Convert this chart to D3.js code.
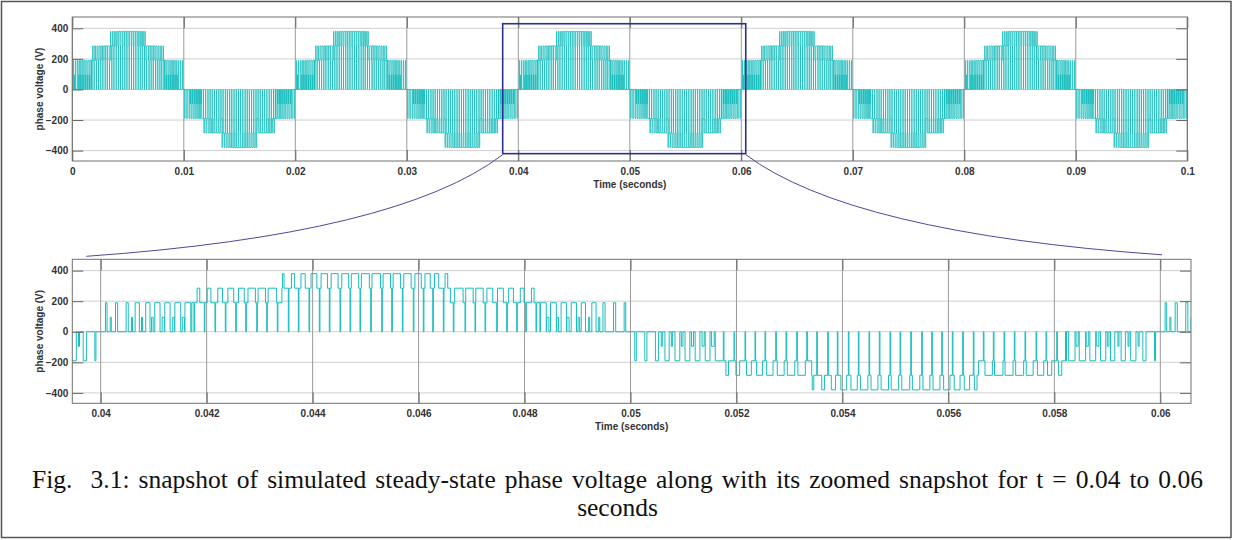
<!DOCTYPE html>
<html>
<head>
<meta charset="utf-8">
<script src="https://cdn.jsdelivr.net/npm/d3@7"></script>
<style>
    body { margin: 0; background: #fff; }
    svg text { font-family: "Liberation Sans", Arial, sans-serif; }
</style>
</head>
<body>
<svg id="fig" width="1233" height="540"></svg>
<script>
/*************************************************************************************************************
 * Data - one steady-state period of the phase voltage (times in ms from the start of the period, volts)
 *************************************************************************************************************/
const periodMs = 20;

// base level of each band [from, to, level]
const cycleBase = [
    [0, 1.72, 0], [1.72, 3.42, 190], [3.42, 6.60, 285], [6.60, 8.29, 190], [8.29, 10, 0],
    [10, 11.60, 0], [11.60, 13.42, -190], [13.42, 16.57, -285], [16.57, 18.23, -190], [18.23, 20, 0]
];

// switching pulses on top of the base level [from, to]
const pulses95 = [
    [0.18, 0.20], [0.58, 0.60], [0.77, 0.79], [0.96, 0.99], [1.16, 1.20], [1.36, 1.39], [1.54, 1.58],
    [8.42, 8.46], [8.61, 8.64], [8.80, 8.84], [9.01, 9.04], [9.21, 9.23], [9.40, 9.42]
];
const pulses190 = [
    [0.09, 0.12], [0.28, 0.32], [0.48, 0.52], [0.65, 0.73], [0.85, 0.93], [1.02, 1.12], [1.21, 1.31],
    [1.40, 1.51], [1.59, 1.70],
    [8.30, 8.41], [8.49, 8.60], [8.69, 8.79], [8.88, 8.98], [9.07, 9.15], [9.27, 9.35], [9.48, 9.52],
    [9.68, 9.72], [9.88, 9.91]
];
const pulses285 = [
    [1.82, 1.87], [2.01, 2.08], [2.21, 2.30], [2.40, 2.51], [2.60, 2.71], [2.78, 2.92], [2.97, 3.11], [3.16, 3.32],
    [6.68, 6.84], [6.89, 7.03], [7.08, 7.22], [7.29, 7.40], [7.49, 7.60], [7.70, 7.79], [7.92, 7.99], [8.13, 8.18]
];
const pulses380 = [
    [3.43, 3.46], [3.60, 3.66], [3.78, 3.86], [3.97, 4.08], [4.16, 4.28], [4.35, 4.48], [4.55, 4.68], [4.73, 4.87],
    [4.92, 5.07], [5.12, 5.28], [5.33, 5.47], [5.52, 5.66], [5.72, 5.86], [5.93, 6.05], [6.12, 6.22], [6.30, 6.38],
    [6.50, 6.55]
];
const pulsesNeg95 = [
    [10.58, 10.60], [10.77, 10.79], [10.96, 10.99], [11.15, 11.19], [11.35, 11.39], [11.53, 11.58],
    [18.41, 18.45], [18.60, 18.64], [18.80, 18.84], [19.00, 19.03], [19.20, 19.22], [19.39, 19.41], [19.58, 19.60]
];
const pulsesNeg190 = [
    [10.08, 10.11], [10.27, 10.31], [10.47, 10.53], [10.65, 10.73], [10.84, 10.93], [11.03, 11.12], [11.22, 11.31],
    [11.41, 11.50],
    [18.27, 18.39], [18.47, 18.59], [18.67, 18.78], [18.87, 18.97], [19.06, 19.14], [19.26, 19.34], [19.44, 19.54],
    [19.67, 19.73], [19.89, 19.91]
];
const pulsesNeg285 = [
    [11.80, 11.85], [11.99, 12.06], [12.19, 12.28], [12.38, 12.49], [12.57, 12.69], [12.77, 12.90], [12.96, 13.10],
    [13.16, 13.30],
    [16.69, 16.83], [16.87, 17.03], [17.07, 17.22], [17.27, 17.42], [17.47, 17.60], [17.68, 17.80], [17.87, 17.95],
    [18.08, 18.14]
];
const pulsesNeg380 = [
    [13.43, 13.46], [13.61, 13.66], [13.79, 13.87], [13.97, 14.08], [14.16, 14.28], [14.34, 14.48], [14.54, 14.67],
    [14.73, 14.87], [14.92, 15.06], [15.12, 15.27], [15.32, 15.46], [15.52, 15.65], [15.71, 15.84], [15.91, 16.03],
    [16.11, 16.22], [16.30, 16.40], [16.49, 16.54]
];

// short drops to 0 V once per carrier period in the upper bands
const dipWidth = 0.012;
const dips = [
    1.761, 1.955, 2.157, 2.352, 2.548, 2.737, 2.945, 3.133, 3.333, 3.541, 3.730, 3.932, 4.126, 4.315, 4.517,
    4.706, 4.894, 5.096, 5.304, 5.493, 5.693, 5.900, 6.089, 6.267, 6.467, 6.655, 6.876, 7.065, 7.254, 7.474,
    7.663, 7.852, 8.022, 8.216,
    11.752, 11.954, 12.161, 12.350, 12.539, 12.741, 12.935, 13.137, 13.326, 13.515, 13.722, 13.903, 14.111,
    14.300, 14.502, 14.696, 14.898, 15.087, 15.289, 15.496, 15.685, 15.874, 16.074, 16.270, 16.470, 16.659,
    16.848, 17.050, 17.244, 17.446, 17.654, 17.843, 18.045, 18.210
];

// period start times (ms) drawn in each panel
const topCycleStarts = [0, 20, 40, 60, 80];
const zoomCycleStarts = [20, 40, 60];

// axes
const topXTicks = [0, 0.01, 0.02, 0.03, 0.04, 0.05, 0.06, 0.07, 0.08, 0.09, 0.1];
const zoomXTicks = [0.04, 0.042, 0.044, 0.046, 0.048, 0.05, 0.052, 0.054, 0.056, 0.058, 0.06];
const yTicks = [-400, -200, 0, 200, 400];
const yDomain = [-468, 474];
const topXDomain = [0, 0.1];
const zoomXDomain = [0.039464, 0.060579];
const zoomBox = {t0: 0.0386, t1: 0.0604, v0: -420, v1: 430};

const captionLines = [
    "Fig.  3.1: snapshot of simulated steady-state phase voltage along with its zoomed snapshot for t = 0.04 to 0.06",
    "seconds"
];

/*************************************************************************************************************
 * Waveform
 *************************************************************************************************************/
const pulseSets = [
    [pulses95, 95], [pulses190, 190], [pulses285, 285], [pulses380, 380],
    [pulsesNeg95, -95], [pulsesNeg190, -190], [pulsesNeg285, -285], [pulsesNeg380, -380]
];

function levelAt(t) {
    if (dips.some(d => t >= d && t < d + dipWidth)) return 0;
    let v = null;
    pulseSets.forEach(([list, level]) => {
        list.forEach(p => {
            if (t >= p[0] && t < p[1]) v = level;
        });
    });
    if (v !== null) return v;
    let b = cycleBase.find(b => t >= b[0] && t < b[1]);
    return b ? b[2] : 0;
}

// step points [t, v] of one period
let cyclePoints = (function () {
    let edges = [];
    cycleBase.forEach(b => edges.push(b[0], b[1]));
    pulseSets.forEach(([list]) => list.forEach(p => edges.push(p[0], p[1])));
    dips.forEach(d => edges.push(d, d + dipWidth));
    edges = Array.from(new Set(edges)).sort((a, b) => a - b);
    let pts = [];
    for (let i = 0; i < edges.length - 1; i++) {
        pts.push([edges[i], levelAt((edges[i] + edges[i + 1]) / 2)]);
    }
    pts.push([periodMs, 0]);
    return pts;
}());

function waveform(starts) {
    let pts = [];
    starts.forEach(s => {
        cyclePoints.forEach(p => pts.push([(s + p[0]) / 1000, p[1]]));
    });
    return pts;
}

/*************************************************************************************************************
 * Drawing
 *************************************************************************************************************/
let svg = d3.select("#fig");

svg.append("rect")
    .attr("x", 1.5).attr("y", 1.5)
    .attr("width", 1229.5).attr("height", 536)
    .attr("fill", "none")
    .attr("stroke", "#555")
    .attr("stroke-width", 1.5);

function drawPanel(id, left, top, width, height, xDomain, xTicks, starts, lineWidth) {
    let x = d3.scaleLinear().domain(xDomain).range([0, width]),
        y = d3.scaleLinear().domain(yDomain).range([height, 0]);

    let g = svg.append("g").attr("transform", "translate(" + left + "," + top + ")");

    g.append("clipPath").attr("id", id)
        .append("rect").attr("width", width).attr("height", height);

    // grid
    g.append("g").selectAll("line")
        .data(yTicks)
        .enter().append("line")
        .attr("x1", 0).attr("x2", width)
        .attr("y1", d => y(d)).attr("y2", d => y(d))
        .attr("stroke", "#cfcfcf");
    g.append("g").selectAll("line")
        .data(xTicks)
        .enter().append("line")
        .attr("y1", 0).attr("y2", height)
        .attr("x1", d => x(d)).attr("x2", d => x(d))
        .attr("stroke", "#9a9a9a");

    let line = d3.line()
        .x(d => x(d[0]))
        .y(d => y(d[1]))
        .curve(d3.curveStepAfter);

    g.append("path")
        .datum(waveform(starts))
        .attr("clip-path", "url(#" + id + ")")
        .attr("fill", "none")
        .attr("stroke", "#17bdbd")
        .attr("stroke-width", lineWidth)
        .attr("d", line);

    let fmt = d => String(+d.toFixed(3));

    let xAxis = g.append("g")
        .attr("transform", "translate(0," + height + ")")
        .call(d3.axisBottom(x).tickValues(xTicks).tickFormat(fmt).tickSize(-11).tickSizeOuter(0).tickPadding(7));
    g.append("g")
        .call(d3.axisTop(x).tickValues(xTicks).tickFormat("").tickSize(-11).tickSizeOuter(0));
    let yAxis = g.append("g")
        .call(d3.axisLeft(y).tickValues(yTicks).tickSize(-11).tickSizeOuter(0).tickPadding(4));
    g.append("g")
        .attr("transform", "translate(" + width + ",0)")
        .call(d3.axisRight(y).tickValues(yTicks).tickFormat("").tickSize(-11).tickSizeOuter(0));

    g.selectAll(".domain").remove();
    g.selectAll(".tick line").attr("stroke", "#666");
    [xAxis, yAxis].forEach(a => a.selectAll("text")
        .style("font-family", "'Liberation Sans', Arial, sans-serif")
        .style("font-size", "10px")
        .style("font-weight", "bold")
        .attr("fill", "#333"));

    g.append("rect")
        .attr("width", width).attr("height", height)
        .attr("fill", "none")
        .attr("stroke", "#707070");

    g.append("text")
        .attr("transform", "rotate(-90)")
        .attr("x", -height / 2)
        .attr("y", -29)
        .style("text-anchor", "middle")
        .style("font-size", "10px")
        .style("font-weight", "bold")
        .attr("fill", "#333")
        .text("phase voltage (V)");

    g.append("text")
        .attr("x", width / 2)
        .attr("y", height + 27)
        .style("text-anchor", "middle")
        .style("font-size", "10px")
        .style("font-weight", "bold")
        .attr("fill", "#333")
        .text("Time (seconds)");

    return {x: x, y: y, left: left, top: top, width: width, height: height};
}

let topPanel = drawPanel("clipTop", 72.3, 17, 1115, 144, topXDomain, topXTicks, topCycleStarts, 0.8);
let zoomPanel = drawPanel("clipZoom", 72.3, 259.3, 1118.7, 144, zoomXDomain, zoomXTicks, zoomCycleStarts, 1);

// zoom box on the top panel
let bx0 = topPanel.left + topPanel.x(zoomBox.t0),
    bx1 = topPanel.left + topPanel.x(zoomBox.t1),
    by0 = topPanel.top + topPanel.y(zoomBox.v1),
    by1 = topPanel.top + topPanel.y(zoomBox.v0);

svg.append("rect")
    .attr("x", bx0).attr("y", by0)
    .attr("width", bx1 - bx0).attr("height", by1 - by0)
    .attr("fill", "none")
    .attr("stroke", "#2b2f8f")
    .attr("stroke-width", 1.6);

// connectors down to the zoomed panel
let ends = [
    [bx0, by1 + 1, zoomPanel.left + 14, zoomPanel.top - 3],
    [bx1, by1 + 1, zoomPanel.left + zoomPanel.width - 29, zoomPanel.top - 4.5]
];
ends.forEach(e => {
    let p = d3.path();
    p.moveTo(e[0], e[1]);
    p.quadraticCurveTo(e[2] + 0.75 * (e[0] - e[2]), e[3] - 22, e[2], e[3]);
    svg.append("path")
        .attr("d", p.toString())
        .attr("fill", "none")
        .attr("stroke", "#4a4a9a")
        .attr("stroke-width", 1);
});

// caption - first line is justified across the page like the original document
let caption = svg.selectAll(".caption")
    .data(captionLines)
    .enter().append("text")
    .attr("class", "caption")
    .attr("x", 617.5)
    .attr("y", (d, i) => 488 + i * 28)
    .style("text-anchor", "middle")
    .style("white-space", "pre")
    .style("font-family", "'Liberation Serif', 'Times New Roman', serif")
    .style("font-size", "25.5px")
    .attr("fill", "#111")
    .text(d => d);

let firstLine = caption.filter((d, i) => i === 0);
let naturalWidth = firstLine.node().getComputedTextLength();
let spaces = captionLines[0].split(" ").length - 1;
firstLine.style("word-spacing", Math.max(0, (1171 - naturalWidth) / spaces) + "px");
</script>
</body>
</html>
